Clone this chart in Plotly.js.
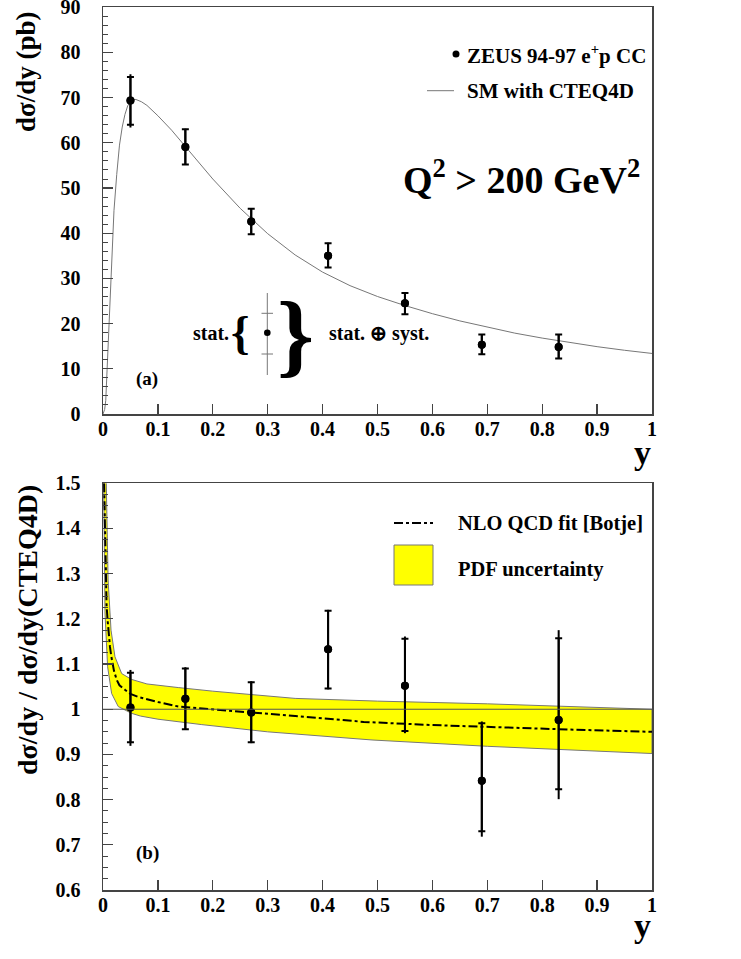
<!DOCTYPE html>
<html><head><meta charset="utf-8">
<script src="https://cdn.plot.ly/plotly-3.0.1.min.js"></script>
<style>html,body{margin:0;padding:0;background:#fff}#chart{width:741px;height:959px}</style>
</head><body><div id="chart"></div>
<script>
// ---------------- data ----------------
const yBins = [0.05, 0.15, 0.27, 0.41, 0.55, 0.69, 0.83];
// (a) d sigma / dy (pb)
const xsec       = [69.4, 59.1, 42.6, 35.0, 24.5, 15.3, 14.8];
const xsecStatUp = [5.2, 3.9, 2.8, 2.8, 2.3, 2.3, 2.8];
const xsecStatDn = [5.4, 3.9, 2.8, 2.6, 2.4, 2.1, 2.5];
const xsecTotUp  = [5.8, 4.0, 2.9, 2.9, 2.4, 2.4, 2.9];
const xsecTotDn  = [6.0, 4.0, 2.9, 2.7, 2.5, 2.2, 2.6];
// SM with CTEQ4D curve
const smY    = [0, 0.003, 0.005, 0.0075, 0.01, 0.0125, 0.015, 0.0175, 0.02, 0.025, 0.03, 0.035, 0.04, 0.045, 0.05, 0.055, 0.06, 0.07, 0.08, 0.1, 0.125, 0.15, 0.175, 0.2, 0.25, 0.3, 0.35, 0.4, 0.45, 0.5, 0.55, 0.6, 0.65, 0.7, 0.75, 0.8, 0.85, 0.9, 0.95, 1.0];
const smXsec = [0, 1, 3, 10, 18, 26, 34, 40, 45, 53, 59.5, 63.5, 66.3, 68.2, 69.2, 69.6, 69.6, 69.1, 68.3, 66.0, 62.8, 59.2, 55.5, 52.0, 45.5, 39.9, 35.2, 31.4, 28.4, 26.0, 24.0, 22.2, 20.6, 19.2, 17.9, 16.8, 15.8, 14.9, 14.1, 13.4];

// (b) ratio to CTEQ4D
const ratio       = [1.004, 1.0235, 0.993, 1.133, 1.052, 0.842, 0.976];
const ratioStatUp = [0.077, 0.0665, 0.067, 0.085, 0.104, 0.127, 0.181];
const ratioStatDn = [0.077, 0.0675, 0.066, 0.087, 0.100, 0.112, 0.153];
const ratioTotUp  = [0.083, 0.0695, 0.069, 0.087, 0.109, 0.131, 0.199];
const ratioTotDn  = [0.085, 0.0695, 0.068, 0.089, 0.105, 0.124, 0.175];
// NLO QCD fit [Botje]
const nloY     = [0.002, 0.0036, 0.0048, 0.0065, 0.0084, 0.0105, 0.0127, 0.015, 0.017, 0.02, 0.025, 0.03, 0.04, 0.05, 0.065, 0.082, 0.1, 0.137, 0.2, 0.268, 0.35, 0.475, 0.6, 0.711, 0.85, 1.0];
const nloRatio = [1.5, 1.371, 1.271, 1.23, 1.197, 1.165, 1.138, 1.118, 1.102, 1.085, 1.065, 1.053, 1.043, 1.034, 1.027, 1.021, 1.016, 1.006, 0.999, 0.993, 0.985, 0.972, 0.965, 0.960, 0.955, 0.950];
// PDF uncertainty band
const bandUpY  = [0.0005, 0.006, 0.0093, 0.0146, 0.0218, 0.034, 0.052, 0.08, 0.137, 0.2, 0.35, 0.5, 0.7, 0.85, 1.0];
const bandUp   = [1.6, 1.5, 1.286, 1.175, 1.116, 1.079, 1.066, 1.056, 1.048, 1.040, 1.024, 1.018, 1.012, 1.006, 1.000];
const bandLoY  = [0.0005, 0.0036, 0.0084, 0.0157, 0.0277, 0.052, 0.068, 0.1, 0.137, 0.18, 0.3, 0.49, 0.7, 1.0];
const bandLo   = [1.6, 1.213, 1.094, 1.035, 1.006, 0.991, 0.985, 0.978, 0.973, 0.966, 0.950, 0.932, 0.918, 0.902];

// tick labels
const xTickVals  = [0, 0.1, 0.2, 0.3, 0.4, 0.5, 0.6, 0.7, 0.8, 0.9, 1];
const xTickText  = ['0', '0.1', '0.2', '0.3', '0.4', '0.5', '0.6', '0.7', '0.8', '0.9', '1'];
const y1TickVals = [0, 10, 20, 30, 40, 50, 60, 70, 80, 90];
const y1TickText = ['0', '10', '20', '30', '40', '50', '60', '70', '80', '90'];
const y2TickVals = [0.6, 0.7, 0.8, 0.9, 1.0, 1.1, 1.2, 1.3, 1.4, 1.5];
const y2TickText = ['0.6', '0.7', '0.8', '0.9', '1', '1.1', '1.2', '1.3', '1.4', '1.5'];

// ---------------- layout helpers ----------------
const W = 741, H = 959;
const px = x => x / W;
const py = y => 1 - y / H;
const SERIF = 'Liberation Serif';
const f = (size, color) => ({family: SERIF, size: size, color: color || '#000', weight: 'bold'});
const AX = '#444';

const bandX = bandUpY.concat(bandLoY.slice().reverse());
const bandYv = bandUp.concat(bandLo.slice().reverse());

const traces = [
  {x: smY, y: smXsec, xaxis: 'x', yaxis: 'y', mode: 'lines', line: {color: '#777', width: 1}, hoverinfo: 'skip'},
  {x: yBins, y: xsec, xaxis: 'x', yaxis: 'y', mode: 'markers', marker: {color: '#000', size: 8},
   error_y: {type: 'data', symmetric: false, array: xsecTotUp, arrayminus: xsecTotDn, width: 0, thickness: 2, color: '#000'}},
  {x: yBins, y: xsec, xaxis: 'x', yaxis: 'y', mode: 'markers', marker: {color: '#000', size: 8},
   error_y: {type: 'data', symmetric: false, array: xsecStatUp, arrayminus: xsecStatDn, width: 3.5, thickness: 2, color: '#000'}},

  {x: bandX, y: bandYv, xaxis: 'x2', yaxis: 'y2', mode: 'lines', fill: 'toself', fillcolor: '#ffff00', line: {color: '#777', width: 1}, hoverinfo: 'skip'},
  {x: nloY, y: nloRatio, xaxis: 'x2', yaxis: 'y2', mode: 'lines', line: {color: '#000', width: 2, dash: '9px,3px,3px,3px'}},
  {x: yBins, y: ratio, xaxis: 'x2', yaxis: 'y2', mode: 'markers', marker: {color: '#000', size: 8},
   error_y: {type: 'data', symmetric: false, array: ratioTotUp, arrayminus: ratioTotDn, width: 0, thickness: 2, color: '#000'}},
  {x: yBins, y: ratio, xaxis: 'x2', yaxis: 'y2', mode: 'markers', marker: {color: '#000', size: 8},
   error_y: {type: 'data', symmetric: false, array: ratioStatUp, arrayminus: ratioStatDn, width: 3.5, thickness: 2, color: '#000'}}
];

const xCommon = {
  domain: [px(103), px(652)], range: [0, 1], tickvals: xTickVals, ticktext: xTickText,
  ticks: 'inside', ticklen: 10, tickwidth: 1.2, tickcolor: AX, showline: true, mirror: true,
  linecolor: AX, linewidth: 1.5, showgrid: false, zeroline: false, tickfont: f(20),
  ticklabelstandoff: -4, ticklabeloverflow: 'allow'
};
const yCommon = {
  ticks: 'inside', ticklen: 10, tickwidth: 1.2, tickcolor: AX, showline: true, mirror: true,
  linecolor: AX, linewidth: 1.5, showgrid: false, zeroline: false, tickfont: f(20),
  ticklabelstandoff: 17, ticklabeloverflow: 'allow'
};

const layout = {
  width: W, height: H, margin: {l: 0, r: 0, t: 0, b: 0}, showlegend: false,
  paper_bgcolor: '#fff', plot_bgcolor: '#fff', font: f(20),
  xaxis: Object.assign({}, xCommon, {anchor: 'y'}),
  yaxis: Object.assign({}, yCommon, {anchor: 'x', domain: [py(414), py(7.3)], range: [0, 90],
    tickvals: y1TickVals, ticktext: y1TickText,
    minor: {dtick: 2, ticks: 'inside', ticklen: 5, tickcolor: AX, tickwidth: 1}}),
  xaxis2: Object.assign({}, xCommon, {anchor: 'y2'}),
  yaxis2: Object.assign({}, yCommon, {anchor: 'x2', domain: [py(890), py(483.3)], range: [0.6, 1.5],
    tickvals: y2TickVals, ticktext: y2TickText,
    minor: {dtick: 0.025, tick0: 0.6, ticks: 'inside', ticklen: 5, tickcolor: AX, tickwidth: 1}}),
  shapes: [
    {type: 'line', xref: 'x2', yref: 'y2', x0: 0, x1: 1, y0: 1, y1: 1, line: {color: '#555', width: 1}, layer: 'above'},
    // legend (a)
    {type: 'circle', xref: 'paper', yref: 'paper', x0: px(452.5), x1: px(459.5), y0: py(57.5), y1: py(50.5), fillcolor: '#000', line: {width: 0}},
    {type: 'line', xref: 'paper', yref: 'paper', x0: px(427), x1: px(454), y0: py(90.7), y1: py(90.7), line: {color: '#777', width: 1}},
    // stat / syst key
    {type: 'line', xref: 'paper', yref: 'paper', x0: px(267.3), x1: px(267.3), y0: py(293), y1: py(375), line: {color: '#777', width: 1}},
    {type: 'line', xref: 'paper', yref: 'paper', x0: px(261.5), x1: px(273), y0: py(313.3), y1: py(313.3), line: {color: '#777', width: 1}},
    {type: 'line', xref: 'paper', yref: 'paper', x0: px(261.5), x1: px(273), y0: py(354), y1: py(354), line: {color: '#777', width: 1}},
    {type: 'circle', xref: 'paper', yref: 'paper', x0: px(264), x1: px(270.6), y0: py(336), y1: py(329.4), fillcolor: '#000', line: {width: 0}},
    // legend (b)
    {type: 'line', xref: 'paper', yref: 'paper', x0: px(394), x1: px(433), y0: py(523), y1: py(523), line: {color: '#000', width: 2, dash: '9px,3px,3px,3px'}},
    {type: 'rect', xref: 'paper', yref: 'paper', x0: px(394), x1: px(433), y0: py(585), y1: py(545), fillcolor: '#ffff00', line: {color: '#777', width: 1}}
  ],
  annotations: [
    {xref: 'paper', yref: 'paper', x: px(26.5), y: py(71.5), text: 'dσ/dy (pb)', textangle: -90, showarrow: false, font: f(27), xanchor: 'center', yanchor: 'middle'},
    {xref: 'paper', yref: 'paper', x: px(27), y: py(630), text: 'dσ/dy / dσ/dy(CTEQ4D)', textangle: -90, showarrow: false, font: f(28), xanchor: 'center', yanchor: 'middle'},
    {xref: 'paper', yref: 'paper', x: px(653), y: py(452), text: 'y', showarrow: false, font: f(34), xanchor: 'right', yanchor: 'middle'},
    {xref: 'paper', yref: 'paper', x: px(653), y: py(925), text: 'y', showarrow: false, font: f(34), xanchor: 'right', yanchor: 'middle'},
    {xref: 'paper', yref: 'paper', x: px(465), y: py(54), text: 'ZEUS 94-97 e<sup>+</sup>p CC', showarrow: false, font: f(21), xanchor: 'left', yanchor: 'middle'},
    {xref: 'paper', yref: 'paper', x: px(465), y: py(91), text: 'SM with CTEQ4D', showarrow: false, font: f(21), xanchor: 'left', yanchor: 'middle'},
    {xref: 'paper', yref: 'paper', x: px(521.5), y: py(177), text: 'Q<sup>2</sup> &gt; 200 GeV<sup>2</sup>', showarrow: false, font: f(38), xanchor: 'center', yanchor: 'middle'},
    {xref: 'paper', yref: 'paper', x: px(147), y: py(379), text: '(a)', showarrow: false, font: f(19), xanchor: 'center', yanchor: 'middle'},
    {xref: 'paper', yref: 'paper', x: px(147), y: py(853), text: '(b)', showarrow: false, font: f(19), xanchor: 'center', yanchor: 'middle'},
    {xref: 'paper', yref: 'paper', x: px(231), y: py(333), text: 'stat.', showarrow: false, font: f(20), xanchor: 'right', yanchor: 'middle'},
    {xref: 'paper', yref: 'paper', x: px(240), y: py(332), text: '{', showarrow: false, font: f(47), xanchor: 'center', yanchor: 'middle'},
    {xref: 'paper', yref: 'paper', x: px(295), y: py(334), text: '}', showarrow: false, font: f(94), xanchor: 'center', yanchor: 'middle'},
    {xref: 'paper', yref: 'paper', x: px(327), y: py(333), text: 'stat. ⊕ syst.', showarrow: false, font: f(20), xanchor: 'left', yanchor: 'middle'},
    {xref: 'paper', yref: 'paper', x: px(456), y: py(523), text: 'NLO QCD fit [Botje]', showarrow: false, font: f(20.5), xanchor: 'left', yanchor: 'middle'},
    {xref: 'paper', yref: 'paper', x: px(456), y: py(569), text: 'PDF uncertainty', showarrow: false, font: f(20.5), xanchor: 'left', yanchor: 'middle'}
  ]
};

Plotly.newPlot('chart', traces, layout, {displayModeBar: false, staticPlot: true});
</script>
</body></html>
